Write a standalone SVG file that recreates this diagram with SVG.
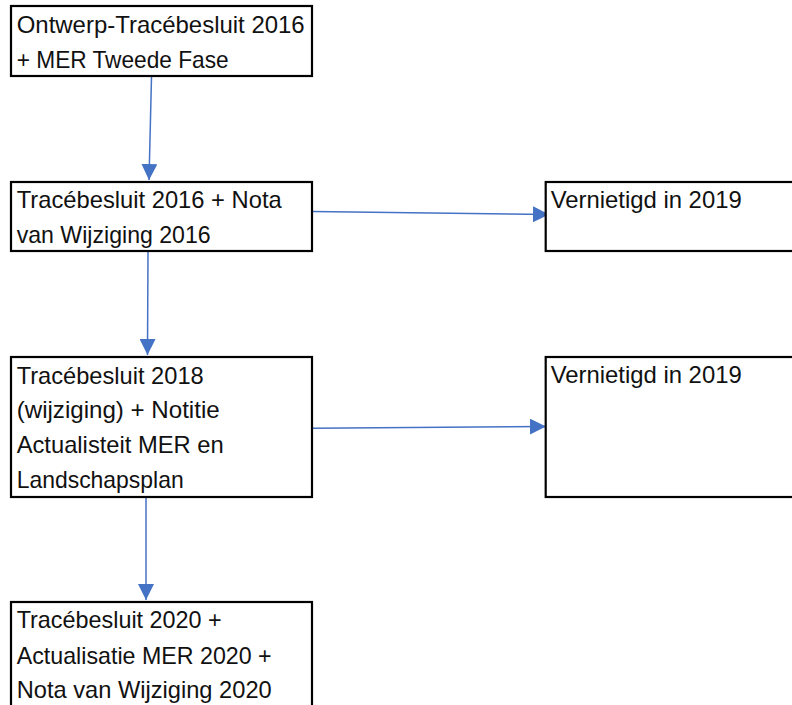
<svg xmlns="http://www.w3.org/2000/svg" width="792" height="705" viewBox="0 0 792 705">
<style>
.box{fill:#fff;stroke:#000;stroke-width:2.2}
.t{font-family:"Liberation Sans",Arial,sans-serif;font-size:24px;fill:#111}
.c{stroke:#4472C4;stroke-width:1.5;fill:none}
</style>
<defs>
<marker id="ah" markerUnits="userSpaceOnUse" markerWidth="16" markerHeight="16" viewBox="0 0 14 14" refX="14" refY="7" orient="auto">
<path d="M0,0 L14,7 L0,14 Z" fill="#4472C4"/>
</marker>
</defs>
<g id="connectors">
<line class="c" x1="151.5" y1="77" x2="149" y2="180" marker-end="url(#ah)"/>
<line class="c" x1="148" y1="252" x2="147.5" y2="355" marker-end="url(#ah)"/>
<line class="c" x1="146" y1="498" x2="146" y2="600" marker-end="url(#ah)"/>
<line class="c" x1="312" y1="211.5" x2="549" y2="214.5" marker-end="url(#ah)"/>
<line class="c" x1="312" y1="428.3" x2="546" y2="426.5" marker-end="url(#ah)"/>
</g>
<g id="n1">
<rect class="box" x="11" y="6" width="301" height="70"/>
<text class="t" x="16.7" y="33" textLength="288" lengthAdjust="spacingAndGlyphs">Ontwerp-Tracébesluit 2016</text>
<text class="t" x="16.7" y="68" textLength="212" lengthAdjust="spacingAndGlyphs">+ MER Tweede Fase</text>
</g>
<g id="n2">
<rect class="box" x="11" y="182" width="301" height="69"/>
<text class="t" x="16.7" y="208.3" textLength="265" lengthAdjust="spacingAndGlyphs">Tracébesluit 2016 + Nota</text>
<text class="t" x="16.7" y="243.3" textLength="194" lengthAdjust="spacingAndGlyphs">van Wijziging 2016</text>
</g>
<g id="n3">
<rect class="box" x="11" y="357" width="301" height="140"/>
<text class="t" x="16.7" y="384.3" textLength="187" lengthAdjust="spacingAndGlyphs">Tracébesluit 2018</text>
<text class="t" x="16.7" y="418.3" textLength="203" lengthAdjust="spacingAndGlyphs">(wijziging) + Notitie</text>
<text class="t" x="16.7" y="453.3" textLength="207" lengthAdjust="spacingAndGlyphs">Actualisteit MER en</text>
<text class="t" x="16.7" y="488.3" textLength="167" lengthAdjust="spacingAndGlyphs">Landschapsplan</text>
</g>
<g id="n4">
<rect class="box" x="11" y="602" width="301" height="120"/>
<text class="t" x="16.7" y="628.3" textLength="205" lengthAdjust="spacingAndGlyphs">Tracébesluit 2020 +</text>
<text class="t" x="16.7" y="664" textLength="255" lengthAdjust="spacingAndGlyphs">Actualisatie MER 2020 +</text>
<text class="t" x="16.7" y="698.3" textLength="255" lengthAdjust="spacingAndGlyphs">Nota van Wijziging 2020</text>
</g>
<g id="n5">
<rect class="box" x="545.7" y="182" width="260" height="69"/>
<text class="t" x="550.7" y="208.3" textLength="191" lengthAdjust="spacingAndGlyphs">Vernietigd in 2019</text>
</g>
<g id="n6">
<rect class="box" x="545.7" y="357" width="260" height="140"/>
<text class="t" x="550.7" y="383.3" textLength="191" lengthAdjust="spacingAndGlyphs">Vernietigd in 2019</text>
</g>
</svg>
